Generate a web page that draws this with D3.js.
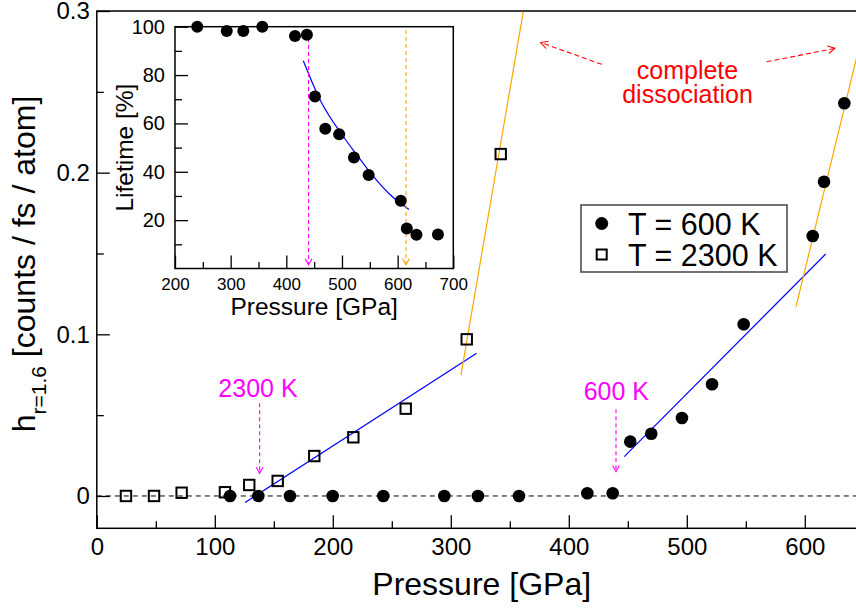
<!DOCTYPE html>
<html>
<head>
<meta charset="utf-8">
<script src="https://cdn.jsdelivr.net/npm/d3@7"></script>
<style>
  html, body { margin: 0; padding: 0; background: #fff; }
  svg { display: block; font-family: "Liberation Sans", Arial, Helvetica, sans-serif; }
</style>
</head>
<body>
<svg id="chart" width="856" height="608"></svg>
<script>
// ---------- data ----------
const p600 = [112.9,136.9,163.7,199.9,242.8,294.5,323.0,357.8,415.7,437.2,452.1,469.9,495.9,521.4,548.2,606.7,616.3,633.5];
const h600 = [0,0,0,0,0,0,0,0,0.0017,0.0017,0.0336,0.0385,0.0482,0.0691,0.1062,0.1608,0.1944,0.2429];
const p2300 = [24.7,48.5,71.9,108.6,129.2,153.3,184.3,217.4,261.8,313.5,342.3];
const h2300 = [0,0,0.002,0.0023,0.0068,0.0093,0.0247,0.0363,0.054,0.0969,0.2115];

const fitBlue2300 = [[125.6,-0.0041],[321.9,0.0883]];
const fitOrange2300 = [[308.6,0.0748],[361.4,0.2995]];
const fitBlue600 = [[447,0.0243],[617.7,0.1497]];
const fitOrange600 = [[592.5,0.117],[650,0.2895]];

const insetP = [240,293,322.7,356.9,415.6,437,451.5,470,495,521.5,547.9,605.6,616.4,633.8,672.4];
const insetLife = [100,98.2,98.2,100,96.2,96.7,71.1,57.8,55.5,45.9,38.7,28.0,16.5,14.0,14.1];
const insetFitP = [430.5,460.5,502.3,526.4,556.3,586.2,620.3];
const insetFitL = [85.9,69.8,54.6,47.1,38.1,30.6,24.4];

const mainXTicks = [0,100,200,300,400,500,600];
const mainXMinor = [50,150,250,350,450,550,650];
const mainYTicks = [0,0.1,0.2,0.3];
const mainYMinor = [0.05,0.15,0.25];
const insetXTicks = [200,300,400,500,600,700];
const insetXMinor = [250,350,450,550,650];
const insetYTicks = [20,40,60,80,100];
const insetYMinor = [10,30,50,70,90];

const onset2300 = 138;   // GPa
const onset600 = 440;    // GPa
const insetArrowMag = 440;
const insetArrowOr = 615;

// ---------- setup ----------
const svg = d3.select("#chart");
const FONT = '"Liberation Sans", Arial, Helvetica, sans-serif';

const x = d3.scaleLinear().domain([0,650]).range([96.8, 863.8]);
const y = d3.scaleLinear().domain([-0.02,0.3]).range([528.3, 11]);

const defs = svg.append("defs");
defs.append("clipPath").attr("id","mainclip").append("rect")
  .attr("x", x(0)).attr("y", y(0.3)).attr("width", x(650)-x(0)).attr("height", y(-0.02)-y(0.3));

// frame
svg.append("rect").attr("x", x(0)).attr("y", y(0.3))
  .attr("width", x(650)-x(0)).attr("height", y(-0.02)-y(0.3))
  .attr("fill","none").attr("stroke","#000").attr("stroke-width",1.5);

function styleAxis(g, fs){
  g.select(".domain").remove();
  g.selectAll("line").attr("stroke","#000").attr("stroke-width",1.3);
  g.selectAll("text").attr("font-size", fs).attr("font-family", FONT).attr("fill","#000");
}

// main axes
const gx = svg.append("g").attr("transform",`translate(0,${y(-0.02)})`)
  .call(d3.axisBottom(x).tickValues(mainXTicks).tickSize(-13).tickPadding(10).tickFormat(d3.format("d")));
styleAxis(gx, 24);
const gxm = svg.append("g").attr("transform",`translate(0,${y(-0.02)})`)
  .call(d3.axisBottom(x).tickValues(mainXMinor).tickSize(-7).tickFormat(""));
styleAxis(gxm, 24);

const gy = svg.append("g").attr("transform",`translate(${x(0)},0)`)
  .call(d3.axisLeft(y).tickValues(mainYTicks).tickSize(-13).tickPadding(7).tickFormat(d => d===0 ? "0" : d3.format(".1f")(d)));
styleAxis(gy, 24);
const gym = svg.append("g").attr("transform",`translate(${x(0)},0)`)
  .call(d3.axisLeft(y).tickValues(mainYMinor).tickSize(-7).tickFormat(""));
styleAxis(gym, 24);

// axis labels
svg.append("text").attr("x", 481.7).attr("y", 595).attr("text-anchor","middle")
  .attr("font-size",32).attr("font-family",FONT).text("Pressure [GPa]");

const yl = svg.append("text").attr("transform","translate(35,264) rotate(-90)")
  .attr("text-anchor","middle").attr("font-size",32).attr("font-family",FONT);
yl.append("tspan").text("h");
yl.append("tspan").attr("font-size",21).attr("dy",11).text("r=1.6");
yl.append("tspan").attr("dy",-11).text(" [counts / fs / atom]");

// plot content
const plot = svg.append("g").attr("clip-path","url(#mainclip)");
plot.append("line").attr("x1",x(0)).attr("x2",x(650)).attr("y1",y(0)).attr("y2",y(0))
  .attr("stroke","#000").attr("stroke-width",1).attr("stroke-dasharray","5,4");

const line = d3.line().x(d=>x(d[0])).y(d=>y(d[1]));
[[fitBlue2300,"#0000ff"],[fitOrange2300,"#ffa500"],[fitBlue600,"#0000ff"],[fitOrange600,"#ffa500"]].forEach(([d,c])=>{
  plot.append("path").attr("d", line(d)).attr("fill","none").attr("stroke",c).attr("stroke-width",1.2);
});

plot.selectAll(".sq").data(p2300.map((p,i)=>[p,h2300[i]])).enter().append("rect")
  .attr("x", d=>x(d[0])-5.2).attr("y", d=>y(d[1])-5.2).attr("width",10.4).attr("height",10.4)
  .attr("fill","none").attr("stroke","#000").attr("stroke-width",2);
plot.selectAll(".ci").data(p600.map((p,i)=>[p,h600[i]])).enter().append("circle")
  .attr("cx", d=>x(d[0])).attr("cy", d=>y(d[1])).attr("r",6.3).attr("fill","#000");

// arrows
function arrow(g, x1,y1,x2,y2,color,dash,head){
  g.append("line").attr("x1",x1).attr("y1",y1).attr("x2",x2).attr("y2",y2)
    .attr("stroke",color).attr("stroke-width",1.1).attr("stroke-dasharray",dash);
  const a = Math.atan2(y2-y1,x2-x1), L = head, w = 0.5;
  const p1 = [x2 - L*Math.cos(a-w), y2 - L*Math.sin(a-w)];
  const p2 = [x2 - L*Math.cos(a+w), y2 - L*Math.sin(a+w)];
  g.append("path").attr("d",`M${p1[0]},${p1[1]}L${x2},${y2}L${p2[0]},${p2[1]}`)
    .attr("fill","none").attr("stroke",color).attr("stroke-width",1.1);
}

// onset annotations
svg.append("text").attr("x", x(136.6)).attr("y", y(0.0612)).attr("text-anchor","middle")
  .attr("font-size",25).attr("font-family",FONT).attr("fill","#ff00ff").text("2300 K");
arrow(svg, x(onset2300), y(0.0573), x(onset2300), y(0.014), "#ff00ff", "4,3", 7);
svg.append("text").attr("x", x(440.3)).attr("y", y(0.0594)).attr("text-anchor","middle")
  .attr("font-size",25).attr("font-family",FONT).attr("fill","#ff00ff").text("600 K");
arrow(svg, x(onset600), y(0.0536), x(onset600), y(0.015), "#ff00ff", "4,3", 7);

// complete dissociation
svg.append("text").attr("x", x(500.6)).attr("y", y(0.2582)).attr("text-anchor","middle")
  .attr("font-size",25).attr("font-family",FONT).attr("fill","#ff0000").text("complete");
svg.append("text").attr("x", x(500.6)).attr("y", y(0.2432)).attr("text-anchor","middle")
  .attr("font-size",25).attr("font-family",FONT).attr("fill","#ff0000").text("dissociation");
arrow(svg, x(427.9), y(0.267), x(376.2), y(0.2805), "#ff0000", "5,3", 8);
arrow(svg, x(567.7), y(0.2686), x(625.6), y(0.2769), "#ff0000", "5,3", 8);

// legend
const lg = svg.append("g");
lg.append("rect").attr("x",581).attr("y",205).attr("width",206).attr("height",67)
  .attr("fill","#fff").attr("stroke","#444").attr("stroke-width",1.5);
lg.append("circle").attr("cx",601.7).attr("cy",223.5).attr("r",6.5).attr("fill","#000");
lg.append("rect").attr("x",596.7).attr("y",249.5).attr("width",10).attr("height",10)
  .attr("fill","none").attr("stroke","#000").attr("stroke-width",2);
lg.append("text").attr("x",628).attr("y",235).attr("font-size",30.5).attr("font-family",FONT).text("T = 600 K");
lg.append("text").attr("x",628).attr("y",265.5).attr("font-size",30.5).attr("font-family",FONT).text("T = 2300 K");

// ---------- inset ----------
const xi = d3.scaleLinear().domain([200,700]).range([175, 453.3]);
const yi = d3.scaleLinear().domain([0,100]).range([268.5, 26.7]);
const inset = svg.append("g");
inset.append("rect").attr("x",xi(200)).attr("y",yi(100)).attr("width",xi(700)-xi(200)).attr("height",yi(0)-yi(100))
  .attr("fill","#fff").attr("stroke","#000").attr("stroke-width",1.5);

const gix = inset.append("g").attr("transform",`translate(0,${yi(0)})`)
  .call(d3.axisBottom(xi).tickValues(insetXTicks).tickSize(-13).tickPadding(9.5).tickFormat(d3.format("d")));
styleAxis(gix, 17);
const gixm = inset.append("g").attr("transform",`translate(0,${yi(0)})`)
  .call(d3.axisBottom(xi).tickValues(insetXMinor).tickSize(-6.5).tickFormat(""));
styleAxis(gixm, 17);
const giy = inset.append("g").attr("transform",`translate(${xi(200)},0)`)
  .call(d3.axisLeft(yi).tickValues(insetYTicks).tickSize(-13).tickPadding(10).tickFormat(d3.format("d")));
styleAxis(giy, 20);
const giym = inset.append("g").attr("transform",`translate(${xi(200)},0)`)
  .call(d3.axisLeft(yi).tickValues(insetYMinor).tickSize(-7).tickFormat(""));
styleAxis(giym, 20);

inset.append("text").attr("x",(xi(200)+xi(700))/2).attr("y",315).attr("text-anchor","middle")
  .attr("font-size",24.5).attr("font-family",FONT).text("Pressure [GPa]");
inset.append("text").attr("transform",`translate(133,${(yi(0)+yi(100))/2}) rotate(-90)`).attr("text-anchor","middle")
  .attr("font-size",24.5).attr("font-family",FONT).text("Lifetime [%]");

inset.append("path").attr("d", d3.line().x(d=>xi(d[0])).y(d=>yi(d[1])).curve(d3.curveMonotoneX)(insetFitP.map((p,i)=>[p,insetFitL[i]])))
  .attr("fill","none").attr("stroke","#0000ff").attr("stroke-width",1.2);

arrow(inset, xi(insetArrowMag), yi(98.2), xi(insetArrowMag), yi(1.5), "#ff00ff", "4,3", 7);
arrow(inset, xi(insetArrowOr), yi(98.6), xi(insetArrowOr), yi(1.5), "#ffa500", "4,3", 7);

inset.selectAll(".ic").data(insetP.map((p,i)=>[p,insetLife[i]])).enter().append("circle")
  .attr("cx", d=>xi(d[0])).attr("cy", d=>yi(d[1])).attr("r",6).attr("fill","#000");
</script>
</body>
</html>
